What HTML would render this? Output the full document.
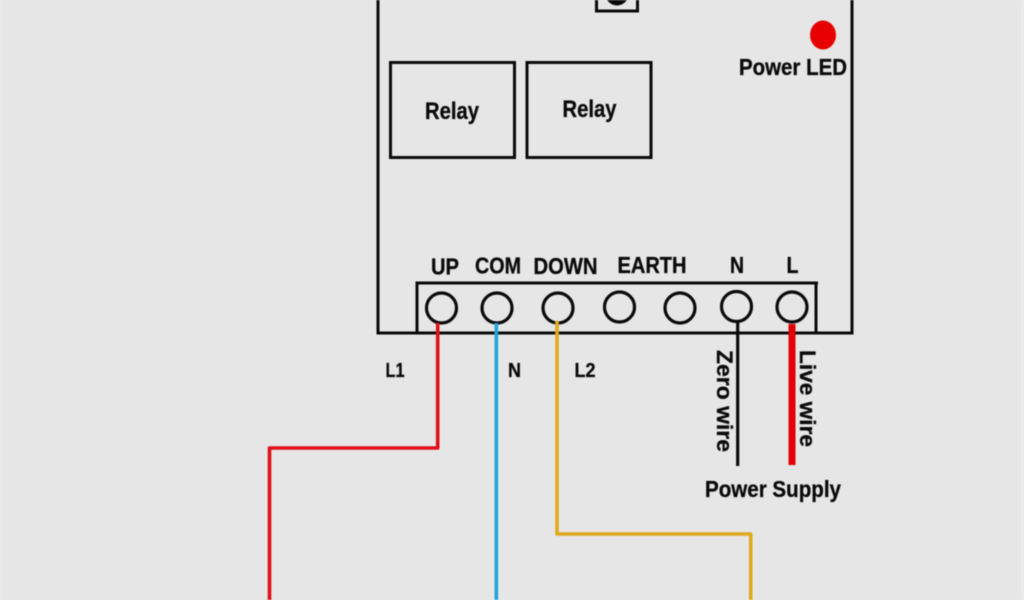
<!DOCTYPE html>
<html>
<head>
<meta charset="utf-8">
<style>
html,body{margin:0;padding:0;background:#e6e6e6;width:1024px;height:600px;overflow:hidden}
svg{display:block;filter:blur(0.45px)}
text{font-family:"Liberation Sans",sans-serif;font-weight:bold;fill:#0a0a0a;stroke:#0a0a0a;stroke-width:0.3px}
</style>
</head>
<body>
<svg width="1024" height="600" viewBox="0 0 1024 600" xmlns="http://www.w3.org/2000/svg">
<rect width="1024" height="600" fill="#e6e6e6"/>
<rect x="0" y="0" width="2" height="600" fill="#ececec"/>
<rect x="1021" y="0" width="3" height="600" fill="#ececec"/>

<!-- main box -->
<path d="M378 -5V333H852V-5" fill="none" stroke="#0a0a0a" stroke-width="3"/>

<!-- button -->
<rect x="596.5" y="-6" width="41" height="17" fill="none" stroke="#0a0a0a" stroke-width="3"/>
<circle cx="617" cy="-6" r="11.5" fill="#0a0a0a"/>

<!-- relays -->
<rect x="390.5" y="62.5" width="124" height="95" fill="none" stroke="#0a0a0a" stroke-width="3"/>
<rect x="527" y="62.5" width="124" height="95" fill="none" stroke="#0a0a0a" stroke-width="3"/>
<text x="425" y="119" font-size="24" textLength="54" lengthAdjust="spacingAndGlyphs">Relay</text>
<text x="562.5" y="117" font-size="24" textLength="54" lengthAdjust="spacingAndGlyphs">Relay</text>

<!-- LED -->
<ellipse cx="823" cy="35" rx="13" ry="14.5" fill="#e60000"/>
<text x="739" y="75" font-size="23" textLength="108" lengthAdjust="spacingAndGlyphs">Power LED</text>

<!-- terminal -->
<path d="M417 333V283H818M816 283V333" fill="none" stroke="#0a0a0a" stroke-width="3"/>
<g fill="none" stroke="#0a0a0a" stroke-width="3.2">
<circle cx="441.5" cy="308" r="15"/>
<circle cx="497" cy="308" r="15"/>
<circle cx="558" cy="308" r="15"/>
<circle cx="619.5" cy="307" r="15"/>
<circle cx="680" cy="308" r="15"/>
<circle cx="736.5" cy="306.5" r="15"/>
<circle cx="792" cy="307" r="15"/>
</g>
<g font-size="23">
<text x="431" y="274.5" textLength="28" lengthAdjust="spacingAndGlyphs">UP</text>
<text x="475" y="273.5" textLength="46" lengthAdjust="spacingAndGlyphs">COM</text>
<text x="533.5" y="274" textLength="64" lengthAdjust="spacingAndGlyphs">DOWN</text>
<text x="617.5" y="273" textLength="69" lengthAdjust="spacingAndGlyphs">EARTH</text>
<text x="730" y="273" textLength="14" lengthAdjust="spacingAndGlyphs">N</text>
<text x="786.5" y="273" textLength="12" lengthAdjust="spacingAndGlyphs">L</text>
</g>

<!-- wires -->
<path d="M437.7 323V448H269.5V600" fill="none" stroke="#e01018" stroke-width="3.6" stroke-linejoin="round"/>
<path d="M496.3 323V600" fill="none" stroke="#1ea5e0" stroke-width="3.6"/>
<path d="M557 321V534H750.7V600" fill="none" stroke="#e0aa1c" stroke-width="3.6" stroke-linejoin="round"/>
<path d="M737.7 322V466" fill="none" stroke="#0a0a0a" stroke-width="3.2"/>
<path d="M792 324V465" fill="none" stroke="#e00008" stroke-width="7"/>

<!-- labels -->
<g font-size="20">
<text x="385.5" y="377" textLength="19" lengthAdjust="spacingAndGlyphs">L1</text>
<text x="508" y="377" textLength="13" lengthAdjust="spacingAndGlyphs">N</text>
<text x="574.5" y="377" textLength="21" lengthAdjust="spacingAndGlyphs">L2</text>
</g>
<text transform="translate(717 350) rotate(90)" font-size="22" textLength="102" lengthAdjust="spacingAndGlyphs">Zero wire</text>
<text transform="translate(800 350) rotate(90)" font-size="22" textLength="97" lengthAdjust="spacingAndGlyphs">Live wire</text>
<text x="705" y="497" font-size="23" textLength="136" lengthAdjust="spacingAndGlyphs">Power Supply</text>
</svg>
</body>
</html>
